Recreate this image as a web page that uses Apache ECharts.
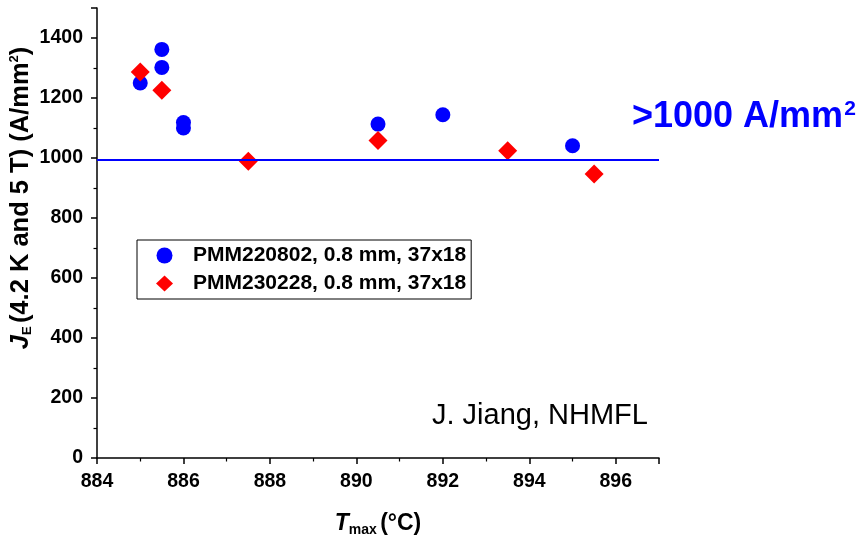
<!DOCTYPE html>
<html>
<head>
<meta charset="utf-8">
<script src="https://cdn.jsdelivr.net/npm/echarts@6/dist/echarts.min.js"></script>
<style>
  html, body { margin: 0; padding: 0; background: #fff; }
  #chart { width: 867px; height: 536px; }
</style>
</head>
<body>
<div id="chart"></div>
<script>
// Engineering current density vs. maximum heat-treatment temperature
const seriesNames = ['PMM220802, 0.8 mm, 37x18', 'PMM230228, 0.8 mm, 37x18'];

// PMM220802 samples: [Tmax (°C), JE (A/mm²)]
const tmaxA = [885, 885.5, 885.5, 886, 886, 890.5, 892, 895];
const jeA   = [1250, 1362, 1302, 1118, 1100, 1113, 1144, 1041];

// PMM230228 samples
const tmaxB = [885, 885.5, 887.5, 890.5, 893.5, 895.5];
const jeB   = [1287, 1226, 989, 1058, 1024, 947];

// Target level
const targetJE = 995;

const xTicks = { min: 884, max: 897, interval: 2 };
const yTicks = { min: 0, max: 1500, interval: 200 };

const FONT = '"Liberation Sans", Arial, sans-serif';

const pairs = (xs, ys) => xs.map((x, i) => [x, ys[i]]);

const chart = echarts.init(document.getElementById('chart'), null, { renderer: 'canvas' });

const axisCommon = {
  axisLine: { show: true, onZero: false, lineStyle: { color: '#000', width: 1.5 } },
  axisTick: { show: true, inside: false, length: 6, lineStyle: { color: '#000', width: 1.5 } },
  minorTick: { show: true, splitNumber: 2, length: 3.5, lineStyle: { color: '#000', width: 1.2 } },
  splitLine: { show: false },
  axisLabel: {
    color: '#000', fontFamily: FONT, fontWeight: 'bold', fontSize: 19.5,
    showMaxLabel: false,
    formatter: v => String(v)
  }
};

const nameRich = (main, sub, subPad) => ({
  i: { fontFamily: FONT, fontWeight: 'bold', fontStyle: 'italic', fontSize: main, color: '#000' },
  sub: { fontFamily: FONT, fontWeight: 'bold', fontSize: sub, color: '#000', padding: [subPad, 0, 0, 0] },
  b: { fontFamily: FONT, fontWeight: 'bold', fontSize: main, color: '#000' },
  sup: { fontFamily: FONT, fontWeight: 'bold', fontSize: sub, color: '#000', padding: [0, 0, subPad, 0] }
});

chart.setOption({
  animation: false,
  backgroundColor: '#fff',
  grid: { left: 97, right: 208, top: 8, bottom: 78, containLabel: false, outerBoundsMode: 'none' },
  legend: {
    orient: 'vertical',
    left: 137, top: 240,
    padding: [5, 5, 5, 19],
    itemGap: 7,
    itemWidth: 17, itemHeight: 16,
    borderColor: '#000', borderWidth: 1,
    textStyle: { color: '#000', fontFamily: FONT, fontWeight: 'bold', fontSize: 21, padding: [0, 0, 0, 15] },
    data: [
      { name: seriesNames[0], icon: 'circle' },
      { name: seriesNames[1], icon: 'diamond' }
    ]
  },
  xAxis: Object.assign({}, axisCommon, {
    type: 'value',
    min: xTicks.min, max: xTicks.max, interval: xTicks.interval,
    axisLabel: Object.assign({}, axisCommon.axisLabel, { margin: 14 }),
    name: '{i|T}{sub|max} {b|(°C)}',
    nameLocation: 'middle',
    nameGap: 53,
    nameMoveOverlap: false,
    nameTextStyle: { rich: nameRich(23, 14, 12) }
  }),
  yAxis: Object.assign({}, axisCommon, {
    type: 'value',
    min: yTicks.min, max: yTicks.max, interval: yTicks.interval,
    axisLabel: Object.assign({}, axisCommon.axisLabel, { margin: 14 }),
    name: '{i|J}{sub|E} {b|(4.2 K and 5 T) (A/mm}{sup|2}{b|)}',
    nameLocation: 'middle',
    nameRotate: 90,
    nameGap: 63,
    nameMoveOverlap: false,
    nameTextStyle: { rich: nameRich(25.5, 13, 13), padding: [0, 0, 0, 70] }
  }),
  series: [
    {
      name: seriesNames[0],
      type: 'scatter',
      symbol: 'circle',
      symbolSize: 15,
      itemStyle: { color: '#0000ff', opacity: 1 },
      data: pairs(tmaxA, jeA),
      z: 3,
      markLine: {
        silent: true,
        symbol: 'none',
        label: { show: false },
        lineStyle: { color: '#0000ff', width: 2, type: 'solid' },
        data: [{ yAxis: targetJE }]
      }
    },
    {
      name: seriesNames[1],
      type: 'scatter',
      symbol: 'diamond',
      symbolSize: 19,
      itemStyle: { color: '#ff0000', opacity: 1 },
      data: pairs(tmaxB, jeB),
      z: 4
    }
  ],
  graphic: [
    {
      type: 'text',
      left: 632, top: 99,
      style: {
        text: '{m|>1000 A/mm}{s|2}',
        rich: {
          m: { fontFamily: FONT, fontWeight: 'bold', fontSize: 36, fill: '#0000ff' },
          s: { fontFamily: FONT, fontWeight: 'bold', fontSize: 21, fill: '#0000ff', padding: [0, 0, 16, 1] }
        }
      }
    },
    {
      type: 'text',
      left: 432, top: 401,
      style: {
        text: 'J. Jiang, NHMFL',
        fontFamily: FONT, fontSize: 29, fill: '#000'
      }
    }
  ]
});
</script>
</body>
</html>
